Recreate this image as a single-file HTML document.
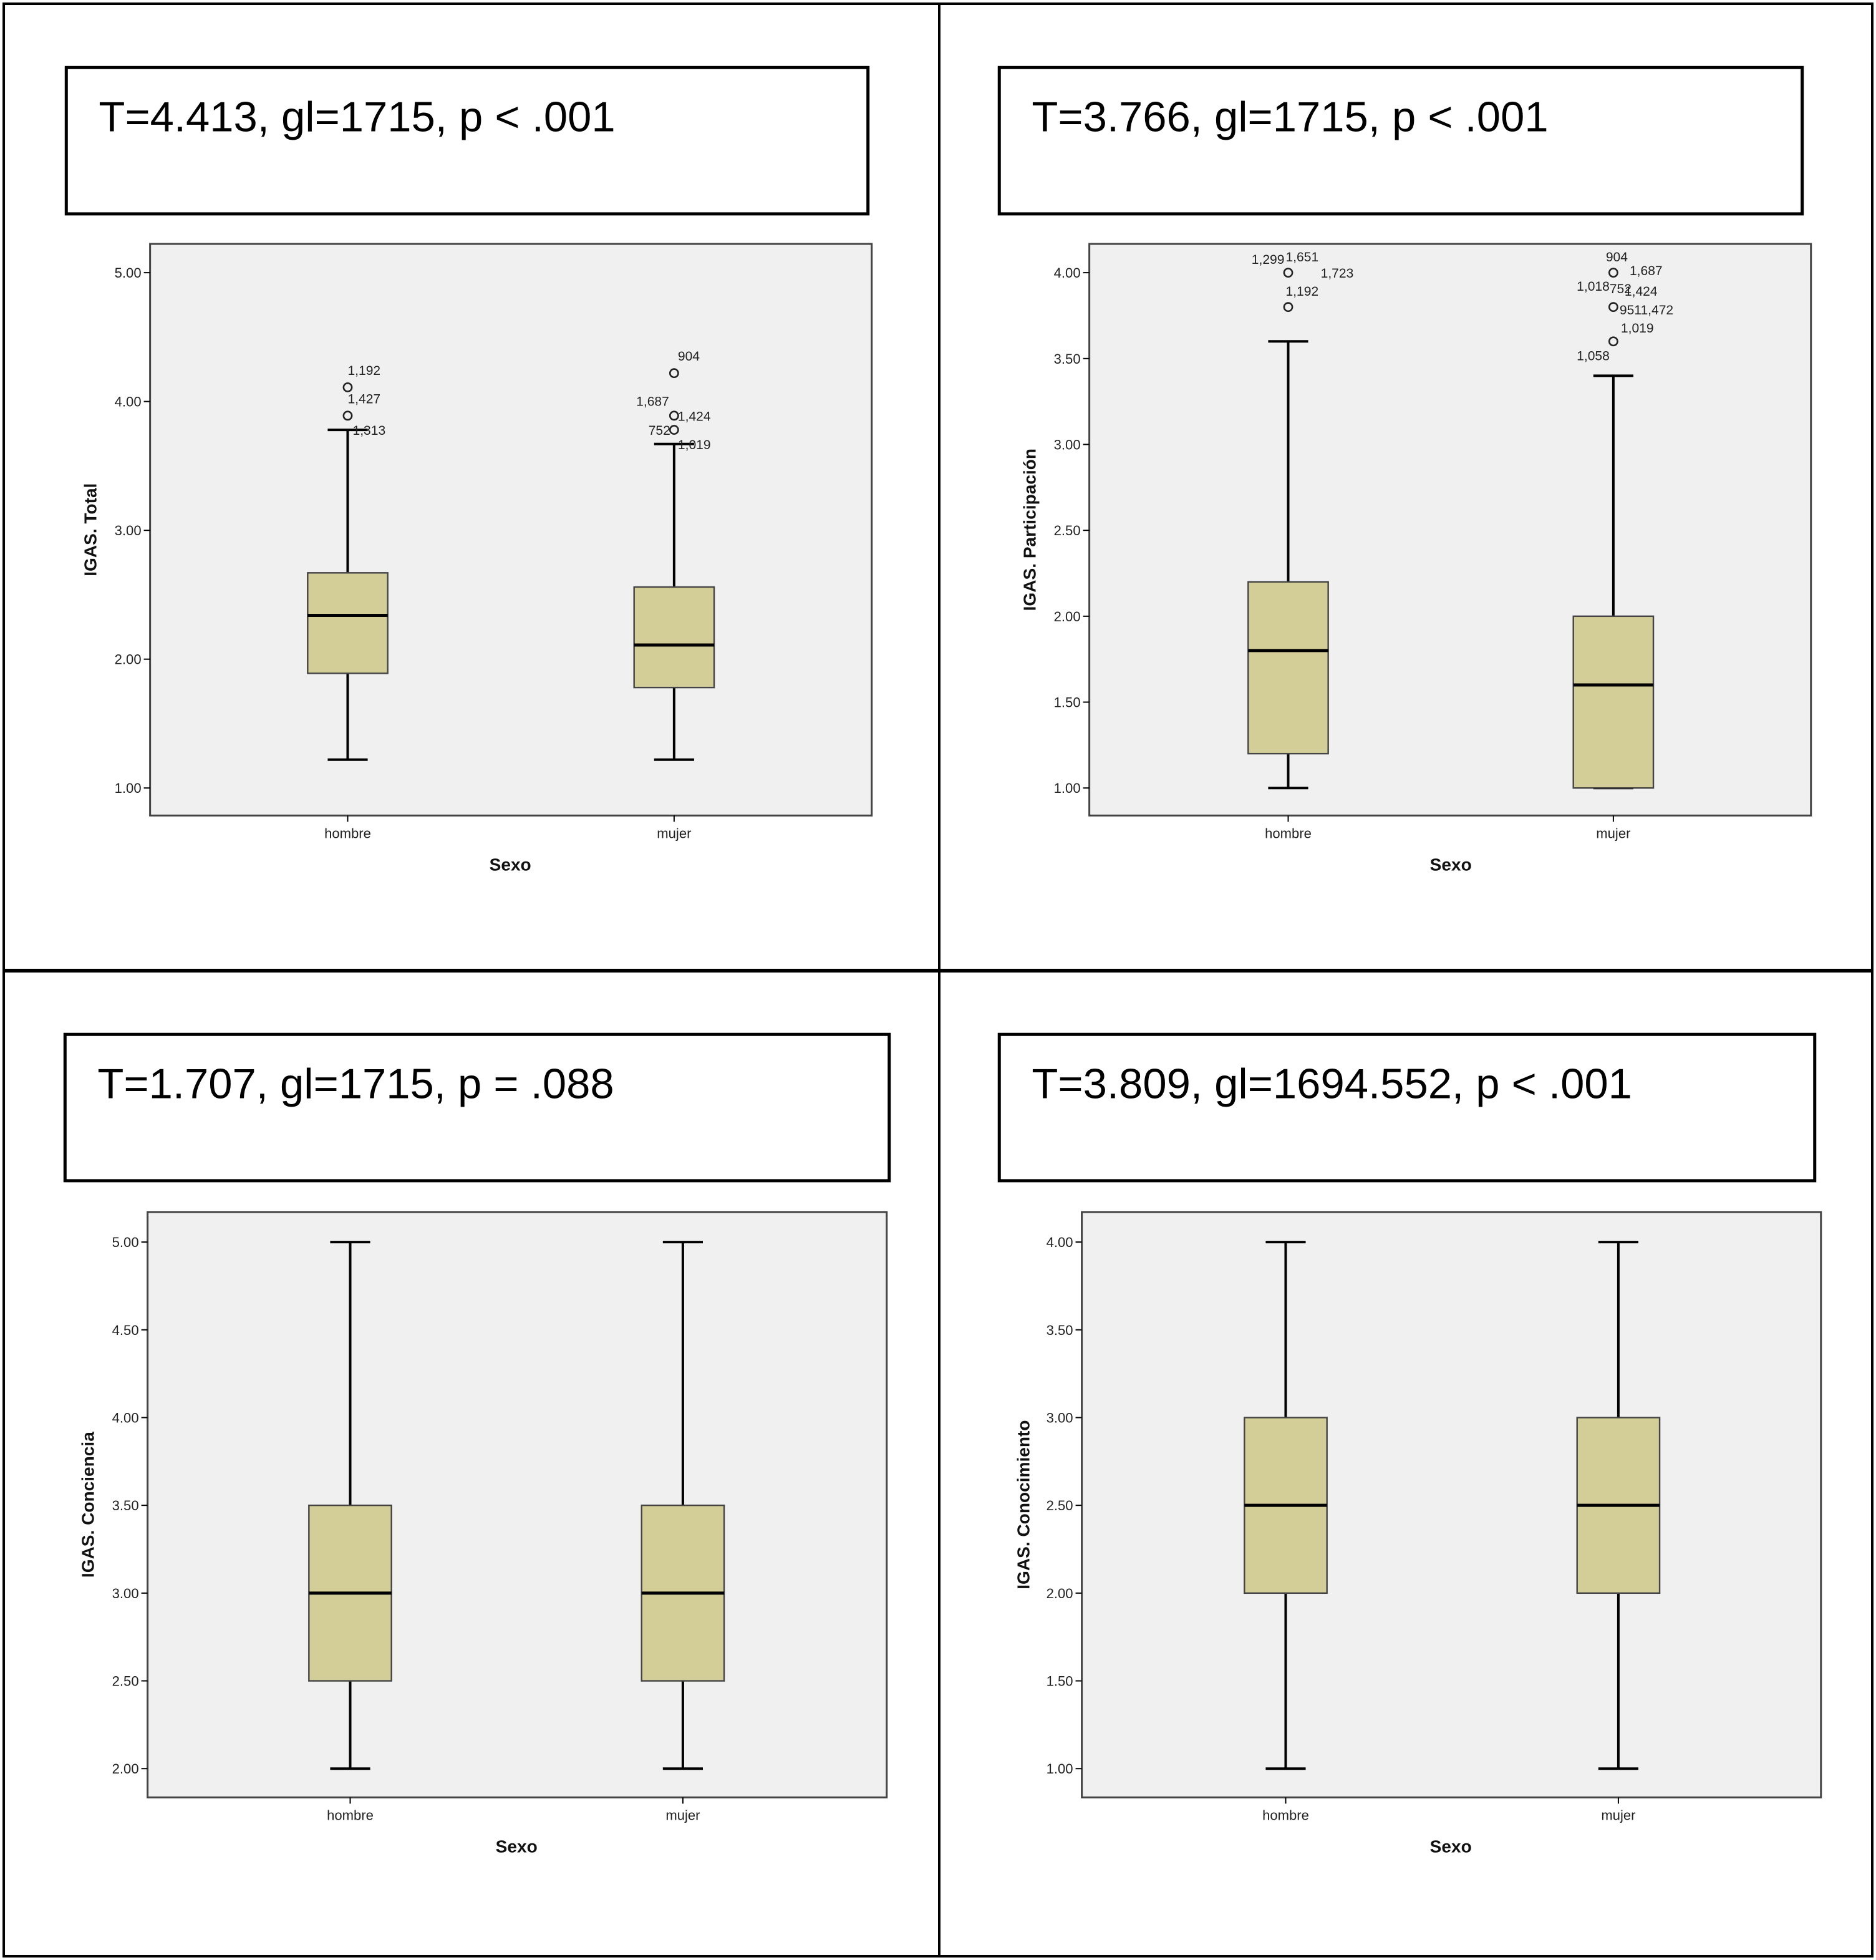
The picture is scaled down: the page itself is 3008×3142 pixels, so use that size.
<!DOCTYPE html>
<html><head><meta charset="utf-8">
<style>
html,body{margin:0;padding:0;background:#fff;}
svg{display:block;}
text{font-family:"Liberation Sans",Arial,sans-serif;}
</style></head>
<body>
<svg id="chart" width="3008" height="3142" viewBox="0 0 1500 1567" preserveAspectRatio="none" xmlns="http://www.w3.org/2000/svg">
<rect x="3" y="3" width="1494" height="1561" fill="#fff" stroke="#000" stroke-width="2"/>
<line x1="751" y1="3" x2="751" y2="1564" stroke="#000" stroke-width="2"/>
<line x1="3" y1="776" x2="1497" y2="776" stroke="#000" stroke-width="3"/>
<g id="root"></g>
</svg>
<script>
const categories = ["hombre","mujer"];
const statTexts = ["T=4.413, gl=1715, p < .001","T=3.766, gl=1715, p < .001","T=1.707, gl=1715, p = .088","T=3.809, gl=1694.552, p < .001"];
const yTitles = ["IGAS. Total","IGAS. Participación","IGAS. Conciencia","IGAS. Conocimiento"];
const tickLabels1 = ["1.00","2.00","3.00","4.00","5.00"];
const tickLabels2 = ["1.00","1.50","2.00","2.50","3.00","3.50","4.00"];
const tickLabels3 = ["2.00","2.50","3.00","3.50","4.00","4.50","5.00"];
const tickLabels4 = ["1.00","1.50","2.00","2.50","3.00","3.50","4.00"];
// [whiskerLow, q1, median, q3, whiskerHigh] per category
const stats1 = [[1.22,1.89,2.34,2.67,3.78],[1.22,1.78,2.11,2.56,3.67]];
const stats2 = [[1.0,1.2,1.8,2.2,3.6],[1.0,1.0,1.6,2.0,3.4]];
const stats3 = [[2.0,2.5,3.0,3.5,5.0],[2.0,2.5,3.0,3.5,5.0]];
const stats4 = [[1.0,2.0,2.5,3.0,4.0],[1.0,2.0,2.5,3.0,4.0]];
// outliers: [categoryIndex, value]
const outliers1 = [[0,4.11],[0,3.89],[1,4.22],[1,3.89],[1,3.78]];
const outliers2 = [[0,4.0],[0,3.8],[1,4.0],[1,3.8],[1,3.6]];
const outlierLabels1 = [[0,4.11,"1,192",0,-10,"start"],[0,3.89,"1,427",0,-10,"start"],[0,3.78,"1,313",4,4,"start"],[1,4.22,"904",3,-10,"start"],[1,3.89,"1,687",-4,-8,"end"],[1,3.89,"1,424",3,4,"start"],[1,3.78,"752",-3,4,"end"],[1,3.67,"1,019",3,4,"start"]];
const outlierLabels2 = [[0,4.0,"1,299",-3,-7,"end"],[0,4.0,"1,651",-2,-9,"start"],[0,4.0,"1,723",26,4,"start"],[0,3.8,"1,192",-2,-9,"start"],[1,4.0,"904",-6,-9,"start"],[1,4.0,"1,687",13,2,"start"],[1,3.8,"1,018",-3,-13,"end"],[1,3.8,"752",-3,-11,"start"],[1,3.8,"1,424",9,-9,"start"],[1,3.8,"9511,472",5,6,"start"],[1,3.6,"1,019",6,-7,"start"],[1,3.6,"1,058",-3,15,"end"]];

const panels = [
 {box:[53,54,641,117], txtLen:413, plot:[120,195,577,457], cx:[278,539], bw:64, tv:[1,2,3,4,5], tl:tickLabels1, vMin:1, vMax:5, yMin:630, yMax:218, stats:stats1, out:outliers1, outL:outlierLabels1, tx:72, sexo:408},
 {box:[799,54,642,117], txtLen:413, plot:[871,195,577,457], cx:[1030,1290], bw:64, tv:[1,1.5,2,2.5,3,3.5,4], tl:tickLabels2, vMin:1, vMax:4, yMin:630, yMax:218, stats:stats2, out:outliers2, outL:outlierLabels2, tx:823, sexo:1160},
 {box:[52,827,659,117], txtLen:413, plot:[118,969,591,468], cx:[280,546], bw:66, tv:[2,2.5,3,3.5,4,4.5,5], tl:tickLabels3, vMin:2, vMax:5, yMin:1414, yMax:993, stats:stats3, out:[], outL:[], tx:70, sexo:413},
 {box:[799,827,652,117], txtLen:480, plot:[865,969,591,468], cx:[1028,1294], bw:66, tv:[1,1.5,2,2.5,3,3.5,4], tl:tickLabels4, vMin:1, vMax:4, yMin:1414, yMax:993, stats:stats4, out:[], outL:[], tx:818, sexo:1160}
];
const NS="http://www.w3.org/2000/svg";
const root=document.getElementById('root');
function mk(tag,attrs,parent){const e=document.createElementNS(NS,tag);for(const k in attrs)e.setAttribute(k,attrs[k]);(parent||root).appendChild(e);return e;}
panels.forEach((p,pi)=>{
  const g=mk('g',{});
  
  
  const y=v=>p.yMin-(v-p.vMin)*(p.yMin-p.yMax)/(p.vMax-p.vMin);
  const sb=mk('rect',{x:p.box[0],y:p.box[1],width:p.box[2],height:p.box[3],fill:'#fff',stroke:'#000','stroke-width':2.5},g);
  
  
  const st=mk('text',{x:p.box[0]+26,y:p.box[1]+51,'font-size':34,fill:'#000',textLength:p.txtLen,lengthAdjust:'spacingAndGlyphs'},g);
  st.textContent=statTexts[pi];
  
  
  const [px,py,pw,ph]=p.plot;
  const pa=mk('rect',{x:px,y:py,width:pw,height:ph,fill:'#f0f0f0',stroke:'#444','stroke-width':1.5},g);
  
  
  p.tv.forEach((v,i)=>{
    const t=mk('line',{x1:px-5,x2:px,y1:y(v),y2:y(v),stroke:'#000','stroke-width':1},g);
    
    
    const l=mk('text',{x:px-7,y:y(v)+4,'font-size':11,'text-anchor':'end',fill:'#222'},g);
    l.textContent=p.tl[i];
    
    
  });
  const yt=mk('text',{x:0,y:0,'font-size':14,'font-weight':'bold','text-anchor':'middle',fill:'#111',transform:`translate(${p.tx+5},${py+ph/2}) rotate(-90)`},g);
  yt.textContent=yTitles[pi];
  
  
  categories.forEach((c,ci)=>{
    const cx=p.cx[ci];
    const t=mk('line',{x1:cx,x2:cx,y1:py+ph,y2:py+ph+5,stroke:'#000','stroke-width':1},g);
    
    
    const l=mk('text',{x:cx,y:py+ph+18,'font-size':11,'text-anchor':'middle',fill:'#222'},g);
    l.textContent=c;
    
    
    const s=p.stats[ci];
    const bg=mk('g',{},g);
    
    
    mk('line',{x1:cx,x2:cx,y1:y(s[0]),y2:y(s[1]),stroke:'#000','stroke-width':2},bg);
    mk('line',{x1:cx,x2:cx,y1:y(s[3]),y2:y(s[4]),stroke:'#000','stroke-width':2},bg);
    mk('line',{x1:cx-16,x2:cx+16,y1:y(s[0]),y2:y(s[0]),stroke:'#000','stroke-width':2},bg);
    mk('line',{x1:cx-16,x2:cx+16,y1:y(s[4]),y2:y(s[4]),stroke:'#000','stroke-width':2},bg);
    mk('rect',{x:cx-p.bw/2,y:y(s[3]),width:p.bw,height:y(s[1])-y(s[3]),fill:'#d3ce97',stroke:'#444','stroke-width':1.2},bg);
    mk('line',{x1:cx-p.bw/2,x2:cx+p.bw/2,y1:y(s[2]),y2:y(s[2]),stroke:'#000','stroke-width':2.5},bg);
  });
  p.out.forEach(o=>{
    const c=mk('circle',{cx:p.cx[o[0]],cy:y(o[1]),r:3.3,fill:'none',stroke:'#222','stroke-width':1.3},g);
    
    
  });
  p.outL.forEach(o=>{
    const t=mk('text',{x:p.cx[o[0]]+o[3],y:y(o[1])+o[4],'font-size':10.5,'text-anchor':o[5],fill:'#222'},g);
    t.textContent=o[2];
    
    
  });
  const sx=mk('text',{x:p.sexo,y:py+ph+44,'font-size':14,'font-weight':'bold','text-anchor':'middle',fill:'#111'},g);
  sx.textContent='Sexo';
  
  
});
</script>
</body></html>
